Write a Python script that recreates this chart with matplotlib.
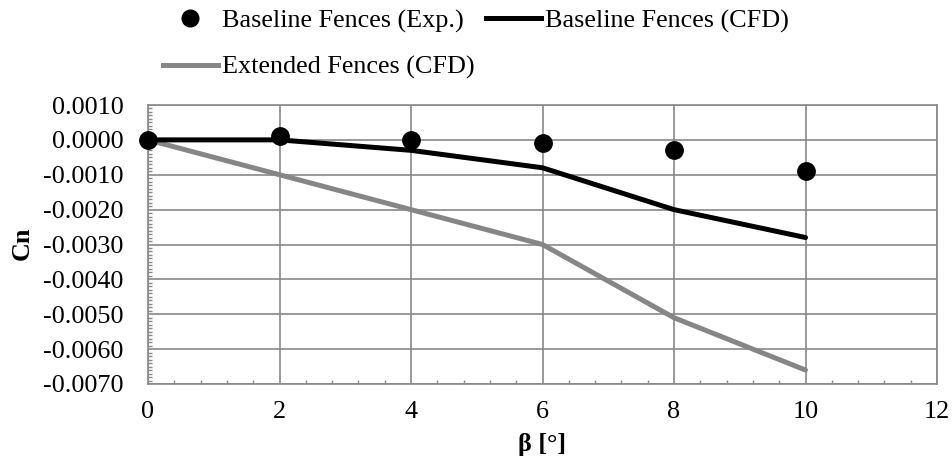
import matplotlib
matplotlib.use("Agg")
import matplotlib.pyplot as plt
from matplotlib.ticker import MultipleLocator, FuncFormatter
from matplotlib.lines import Line2D

plt.rcParams['font.family'] = ['Liberation Serif', 'DejaVu Serif']

beta = [0, 2, 4, 6, 8, 10]
exp_baseline = [0.0000, 0.0001, 0.0000, -0.0001, -0.0003, -0.0009]
cfd_baseline = [0.0000, 0.0000, -0.0003, -0.0008, -0.0020, -0.0028]
cfd_extended = [0.0000, -0.0010, -0.0020, -0.0030, -0.0051, -0.0066]

labels = ["Baseline Fences (Exp.)", "Baseline Fences (CFD)", "Extended Fences (CFD)"]

grid_c = '#898989'
FS = 18.8

fig = plt.figure(figsize=(9.52, 4.63), dpi=100)
ax = fig.add_axes([148/952, 1-384/463, (937-148)/952, (384-105)/463])

ax.plot(beta, cfd_extended, color='#868686', lw=3.6, solid_capstyle='round', zorder=3)
ax.plot(beta, cfd_baseline, color='black', lw=3.6, solid_capstyle='round', zorder=4)
ax.plot(beta, exp_baseline, 'o', color='black', ms=12.5, zorder=5, clip_on=False)

ax.set_xlim(0, 12)
ax.set_ylim(-0.007, 0.001)
ax.xaxis.set_major_locator(MultipleLocator(2))
ax.xaxis.set_minor_locator(MultipleLocator(0.4))
ax.yaxis.set_major_locator(MultipleLocator(0.001))
ax.yaxis.set_minor_locator(MultipleLocator(0.0001))
ax.yaxis.set_major_formatter(FuncFormatter(lambda v, p: "{:.4f}".format(v + 0.0)))
ax.grid(True, which='major', color=grid_c, lw=1.2, zorder=0)
ax.set_axisbelow(True)
for s in ax.spines.values():
    s.set_color(grid_c)
    s.set_linewidth(1.2)
ax.tick_params(which='major', length=0, labelsize=FS, colors='black')
ax.tick_params(which='minor', direction='in', length=3, color=grid_c, width=1)
ax.tick_params(axis='y', which='major', pad=17.5)
ax.tick_params(axis='x', which='major', pad=12)

fig.text(22/952, 1-243/463, "Cn", rotation=90, ha='center', va='center',
         fontsize=FS, fontweight='bold')
fig.text(542.5/952, 1-444/463, "β [°]", ha='center', va='center',
         fontsize=FS, fontweight='bold')

h_exp = Line2D([], [], marker='o', color='black', ls='none', ms=12)
h_base = Line2D([], [], color='black', lw=3.6)
h_ext = Line2D([], [], color='#868686', lw=3.6)
fig.legend([h_exp, h_ext, h_base], [labels[0], labels[2], labels[1]],
           ncol=2, loc='upper left', bbox_to_anchor=(163/952, 1 - 9/463),
           frameon=False, fontsize=FS, handlelength=2.1, handletextpad=0.15,
           columnspacing=0.45, labelspacing=0.88, borderaxespad=0, borderpad=0)

fig.savefig("out.png", dpi=100)
